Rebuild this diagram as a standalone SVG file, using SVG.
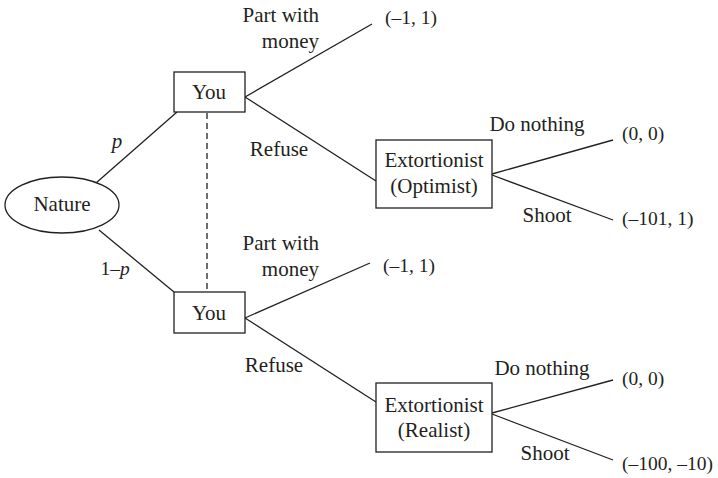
<svg xmlns="http://www.w3.org/2000/svg" width="718" height="478" viewBox="0 0 718 478">
<style>
.n{fill:#fff;stroke:#231f20;stroke-width:1.3}
.e{stroke:#231f20;stroke-width:1.3;fill:none}
.d{stroke:#231f20;stroke-width:1.3;stroke-dasharray:6 4;fill:none}
text{font-family:"Liberation Serif","Times New Roman",serif;font-size:21px;fill:#231f20}
.c{text-anchor:middle}
.r{text-anchor:end}
.i{font-style:italic}
.p{font-size:19.5px}
</style>
<rect width="718" height="478" fill="#fff"/>
<g id="connectors">
<line class="e" x1="96" y1="183" x2="177" y2="112"/>
<line class="e" x1="99" y1="230" x2="174" y2="292"/>
<line class="d" x1="207" y1="113" x2="207" y2="291"/>
<line class="e" x1="245" y1="97" x2="372" y2="24"/>
<line class="e" x1="245" y1="97" x2="376" y2="181"/>
<line class="e" x1="492" y1="174" x2="613" y2="140"/>
<line class="e" x1="492" y1="175" x2="613" y2="220"/>
<line class="e" x1="245" y1="318" x2="370" y2="263"/>
<line class="e" x1="245" y1="318" x2="376" y2="402"/>
<line class="e" x1="492" y1="413" x2="613" y2="380"/>
<line class="e" x1="492" y1="414" x2="613" y2="460"/>
<text x="117" y="148" class="c i">p</text>
<text x="115" y="275" class="c p"><tspan>1–</tspan><tspan class="i">p</tspan></text>
<text x="319" y="22" class="r">Part with</text>
<text x="319" y="48" class="r">money</text>
<text x="279" y="156" class="c">Refuse</text>
<text x="319" y="250" class="r">Part with</text>
<text x="319" y="276" class="r">money</text>
<text x="274" y="372" class="c">Refuse</text>
<text x="537" y="131" class="c">Do nothing</text>
<text x="547" y="222" class="c">Shoot</text>
<text x="542" y="375" class="c">Do nothing</text>
<text x="545" y="460" class="c">Shoot</text>
</g>
<g id="nature">
<ellipse class="n" cx="62" cy="205" rx="57" ry="28"/>
<text x="62" y="211" class="c">Nature</text>
</g>
<g id="you1">
<rect class="n" x="174" y="72" width="71" height="40"/>
<text x="209" y="99" class="c">You</text>
</g>
<g id="you2">
<rect class="n" x="174" y="292" width="71" height="41"/>
<text x="209" y="320" class="c">You</text>
</g>
<g id="ext1">
<rect class="n" x="376" y="140" width="116" height="68"/>
<text x="434" y="167" class="c">Extortionist</text>
<text x="434" y="193" class="c">(Optimist)</text>
</g>
<g id="ext2">
<rect class="n" x="376" y="383" width="116" height="69"/>
<text x="434" y="412" class="c">Extortionist</text>
<text x="434" y="437" class="c">(Realist)</text>
</g>
<g id="payoffs">
<text x="385" y="24" class="p">(–1, 1)</text>
<text x="622" y="140" class="p">(0, 0)</text>
<text x="622" y="225" class="p">(–101, 1)</text>
<text x="383" y="272" class="p">(–1, 1)</text>
<text x="622" y="385" class="p">(0, 0)</text>
<text x="622" y="470" class="p">(–100, –10)</text>
</g>
</svg>
